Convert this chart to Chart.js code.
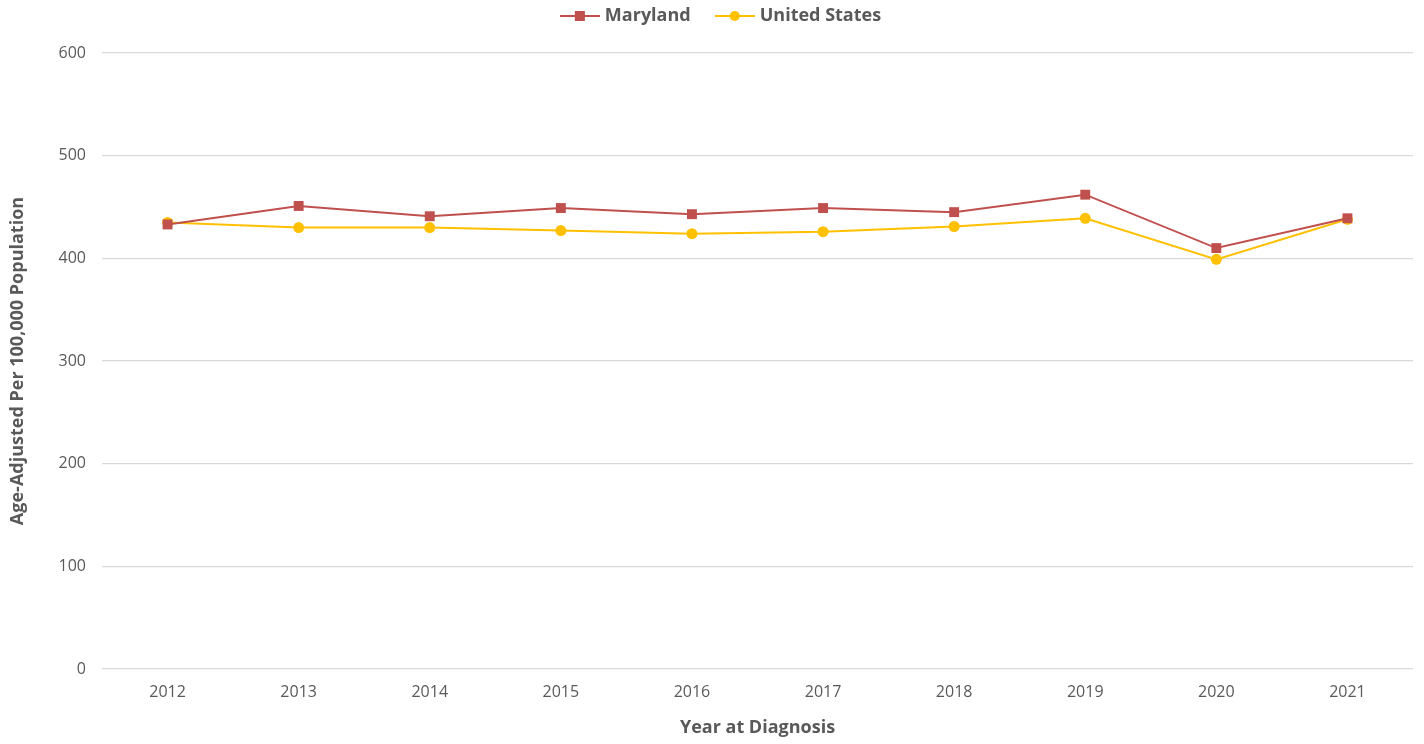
<!DOCTYPE html>
<html>
<head>
<meta charset="utf-8">
<script src="https://cdn.jsdelivr.net/npm/chart.js@4.4.0/dist/chart.umd.min.js"></script>
<style>
  html, body { margin: 0; padding: 0; background: #fff; }
  #wrap { width: 1424px; height: 744px; }
</style>
</head>
<body>
<div id="wrap"><canvas id="rateChart"></canvas></div>
<script>
const years = ['2012', '2013', '2014', '2015', '2016', '2017', '2018', '2019', '2020', '2021'];
const maryland = [433, 451, 441, 449, 443, 449, 445, 462, 410, 439];
const unitedStates = [435, 430, 430, 427, 424, 426, 431, 439, 399, 438];
const yTicks = [0, 100, 200, 300, 400, 500, 600];

const mdColor = '#c0504d';
const usColor = '#ffc000';
const textColor = '#595959';
const fontFamily = "'Open Sans', 'DejaVu Sans', sans-serif";

// little line+marker icon for the legend
function legendIcon(color, shape) {
  const c = document.createElement('canvas');
  c.width = 40;
  c.height = 14;
  const g = c.getContext('2d');
  g.strokeStyle = color;
  g.lineWidth = 2;
  g.beginPath();
  g.moveTo(0, 7);
  g.lineTo(40, 7);
  g.stroke();
  g.fillStyle = color;
  if (shape === 'rect') {
    g.fillRect(15, 2, 10, 10);
  } else {
    g.beginPath();
    g.arc(20, 7, 5, 0, Math.PI * 2);
    g.fill();
  }
  return c;
}

const icons = [legendIcon(mdColor, 'rect'), legendIcon(usColor, 'circle')];

// keep the plot top where the reference has it, and nudge the legend right
const legendHeight = {
  id: 'legendHeight',
  beforeInit(chart) {
    const fit = chart.legend.fit;
    chart.legend.fit = function () {
      fit.call(this);
      this.height = 74;
    };
  },
  afterLayout(chart) {
    chart.legend.left += 16;
    chart.legend.right += 16;
  }
};

const ctx = document.getElementById('rateChart').getContext('2d');

new Chart(ctx, {
  type: 'line',
  data: {
    labels: years,
    datasets: [{
      label: 'Maryland',
      data: maryland,
      borderColor: mdColor,
      backgroundColor: mdColor,
      borderWidth: 2,
      pointStyle: 'rect',
      pointRadius: 7,
      pointBorderWidth: 0,
      tension: 0,
      fill: false
    }, {
      label: 'United States',
      data: unitedStates,
      borderColor: usColor,
      backgroundColor: usColor,
      borderWidth: 2,
      pointStyle: 'circle',
      pointRadius: 5.5,
      pointBorderWidth: 0,
      tension: 0,
      fill: false
    }]
  },
  plugins: [legendHeight],
  options: {
    responsive: true,
    maintainAspectRatio: false,
    animation: false,
    layout: {
      padding: { left: 0, right: 11, top: -21, bottom: 0 }
    },
    plugins: {
      legend: {
        position: 'top',
        labels: {
          usePointStyle: true,
          pointStyleWidth: 32,
          padding: 28,
          color: textColor,
          font: { family: fontFamily, size: 18, weight: 'bold' },
          generateLabels: (chart) => chart.data.datasets.map((ds, i) => ({
            text: ds.label,
            pointStyle: icons[i],
            fontColor: textColor,
            datasetIndex: i,
            hidden: !chart.isDatasetVisible(i),
            lineWidth: 0,
            strokeStyle: 'transparent',
            fillStyle: 'transparent'
          }))
        }
      },
      tooltip: { enabled: false }
    },
    scales: {
      x: {
        offset: true,
        grid: { display: false, drawTicks: false },
        border: { display: false },
        ticks: {
          color: textColor,
          padding: 14,
          font: { family: fontFamily, size: 16 }
        },
        title: {
          display: true,
          text: 'Year at Diagnosis',
          color: textColor,
          font: { family: fontFamily, size: 18, weight: 'bold' },
          padding: { top: 10, bottom: 5 }
        },
        afterFit: (scale) => { scale.height = 75; }
      },
      y: {
        min: 0,
        max: 600,
        afterBuildTicks: (scale) => { scale.ticks = yTicks.map(v => ({ value: v })); },
        grid: { color: '#d9d9d9', lineWidth: 1.3, drawTicks: false },
        border: { display: false },
        ticks: {
          color: textColor,
          padding: 16,
          font: { family: fontFamily, size: 16 }
        },
        title: {
          display: true,
          text: 'Age-Adjusted Per 100,000 Population',
          color: textColor,
          font: { family: fontFamily, size: 18, weight: 'bold' },
          padding: { top: 7, bottom: 0 }
        },
        afterFit: (scale) => { scale.width = 102; }
      }
    }
  }
});
</script>
</body>
</html>
